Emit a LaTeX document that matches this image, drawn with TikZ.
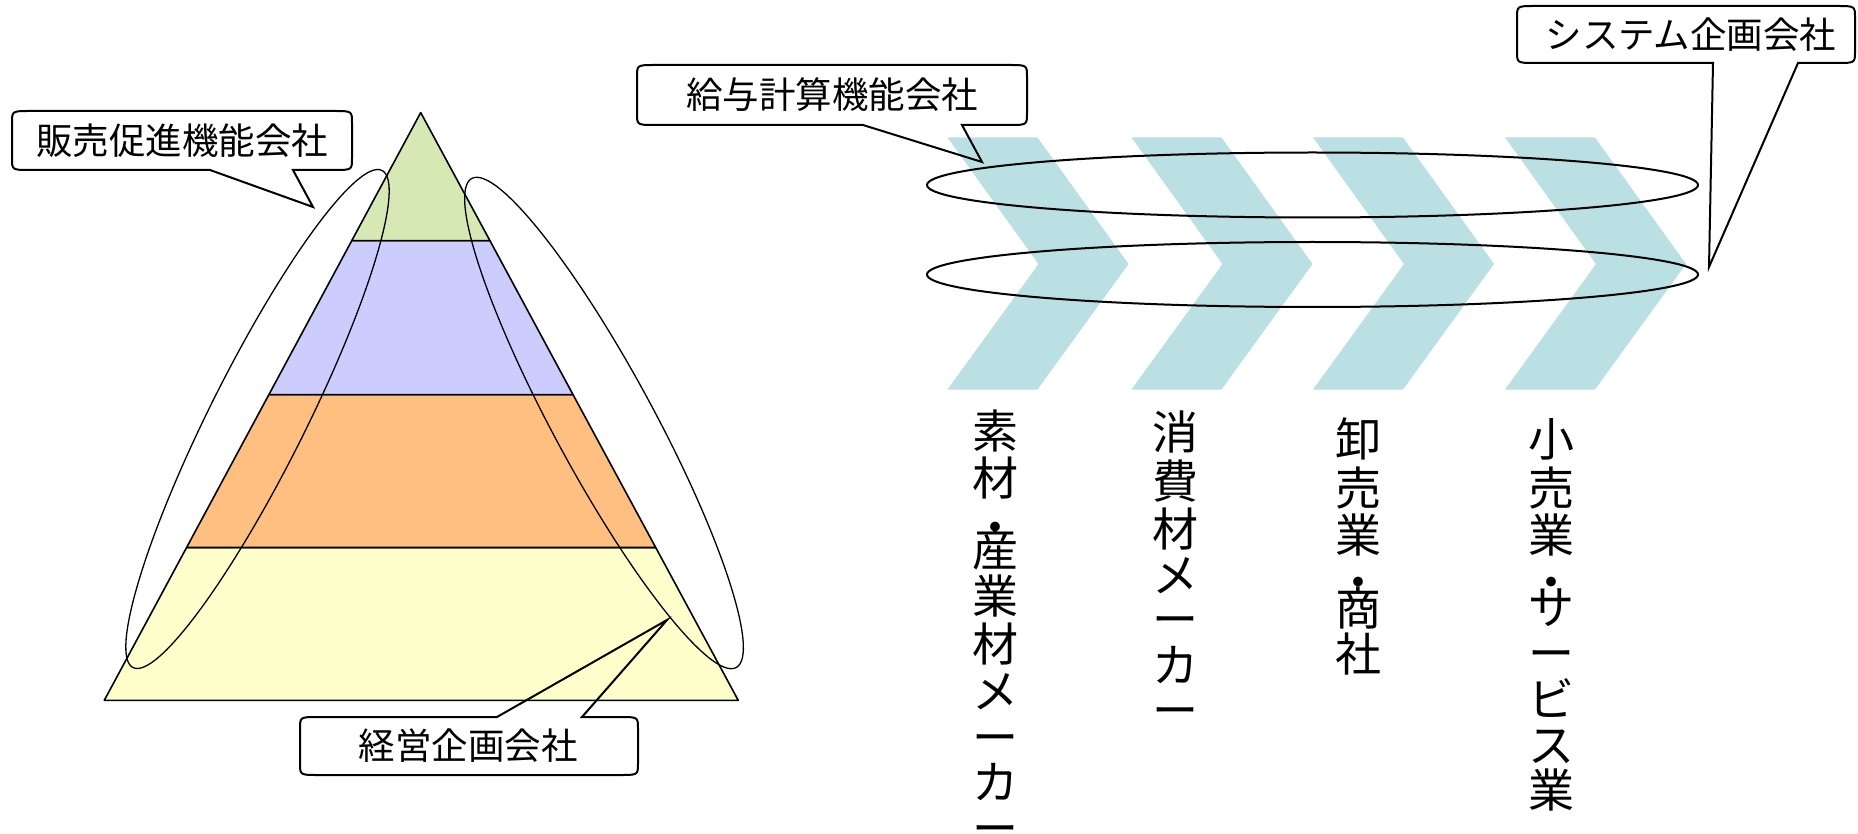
\documentclass[tikz,border=0pt]{standalone}
\usepackage{fontspec}
\newfontfamily\jpfont{Noto Sans CJK JP}
\definecolor{pgreen}{RGB}{214,233,181}
\definecolor{pblue}{RGB}{204,204,255}
\definecolor{porange}{RGB}{255,191,128}
\definecolor{pyellow}{RGB}{255,255,204}
\definecolor{chev}{RGB}{187,224,227}
\begin{document}
\begin{tikzpicture}[x=1pt,y=-1pt,
  layer/.style={draw=black,line width=1.6pt,line join=round},
  ring/.style={draw=black,line width=1.3pt},
  band/.style={draw=black,line width=2pt},
  callout/.style={draw=black,line width=2pt,line join=miter},
  ctext/.style={font=\jpfont\fontsize{36.5}{40}\selectfont,inner sep=0pt,text height=32.1pt,text depth=4.4pt},
  vch/.style={font=\jpfont\fontsize{46}{46}\selectfont,inner sep=0pt,text height=40.5pt,text depth=5.5pt}]
\fill[white] (0,0) rectangle (1858,834);
\useasboundingbox (0,0) rectangle (1858,834);

% pyramid
\coordinate (apex) at (420.7,112.6);
\coordinate (bl) at (104.3,700.3);
\coordinate (br) at (738.2,700.3);
\coordinate (l1) at (351.8,240.6);
\coordinate (r1) at (489.9,240.6);
\coordinate (l2) at (268.9,394.6);
\coordinate (r2) at (573.0,394.6);
\coordinate (l3) at (186.6,547.5);
\coordinate (r3) at (655.7,547.5);
\filldraw[layer,fill=pyellow] (l3) -- (r3) -- (br) -- (bl) -- cycle;
\filldraw[layer,fill=porange] (l2) -- (r2) -- (r3) -- (l3) -- cycle;
\filldraw[layer,fill=pblue] (l1) -- (r1) -- (r2) -- (l2) -- cycle;
\filldraw[layer,fill=pgreen] (apex) -- (r1) -- (l1) -- cycle;

% ellipses around pyramid sides
\draw[ring,shift={(257.5,419)},rotate=63.4] (0,0) ellipse[x radius=278,y radius=48];
\draw[ring,shift={(604,423)},rotate=118.4] (0,0) ellipse[x radius=278,y radius=50];

% chevrons
\foreach \x [count=\i] in {947.5,1131.5,1313,1505}
  \fill[chev] (\x,137.5) -- ++(90,0) -- ++(91,126.5) -- ++(-91,125.5) -- ++(-90,0) -- ++(91,-125.5) -- cycle;

% ellipses over chevrons
\draw[band] (1312.5,185) ellipse[x radius=385.5,y radius=32.5];
\draw[band] (1312.5,274.5) ellipse[x radius=385.5,y radius=32.5];

% callout 1
\draw[callout] (182,111) -- (334,111) .. controls (352,111) .. (352,123) -- (352,158)
  .. controls (352,170) .. (334,170) -- (293,170) -- (313,207) -- (210,170) -- (30,170)
  .. controls (12,170) .. (12,158) -- (12,123) .. controls (12,111) .. (30,111) -- cycle;
\node[ctext] (t1) at (182,140.5) {販売促進機能会社};

% callout 2
\draw[callout] (832,65) -- (1009,65) .. controls (1027,65) .. (1027,77) -- (1027,113)
  .. controls (1027,125) .. (1009,125) -- (962,125) -- (982,162) -- (863,125) -- (655,125)
  .. controls (637,125) .. (637,113) -- (637,77) .. controls (637,65) .. (655,65) -- cycle;
\node[ctext] (t2) at (832,95) {給与計算機能会社};

% callout 3
\draw[callout] (1686,6) -- (1837,6) .. controls (1855,6) .. (1855,18) -- (1855,51)
  .. controls (1855,63) .. (1837,63) -- (1798,63) -- (1709,267) -- (1713,63) -- (1535,63)
  .. controls (1517,63) .. (1517,51) -- (1517,18) .. controls (1517,6) .. (1535,6) -- cycle;
\node[ctext] (t3) at (1691,34.5) {システム企画会社};

% callout 4
\draw[callout] (318,717) -- (497,717) -- (667,620) -- (582,717) -- (620,717)
  .. controls (638,717) .. (638,729) -- (638,763) .. controls (638,775) .. (620,775)
  -- (318,775) .. controls (300,775) .. (300,763) -- (300,729) .. controls (300,717) .. (318,717) -- cycle;
\node[ctext] (t4) at (468,746) {経営企画会社};

% vertical labels
\foreach \c/\y [count=\i] in {素/431,材/477.5,・/527,産/549,業/596,材/644,メ/691,ー/737,カ/782,ー/828}
  \node[vch] (a\i) at (995,\y) {\c};
\foreach \c/\y [count=\i] in {消/432,費/481,材/529,メ/575,ー/619,カ/665,ー/710}
  \node[vch] (b\i) at (1175.5,\y) {\c};
\foreach \c/\y [count=\i] in {卸/439,売/488,業/535,・/582,商/608,社/654}
  \node[vch] (c\i) at (1358,\y) {\c};
\foreach \c/\y [count=\i] in {小/439,売/488,業/535,・/582,サ/607,ー/653,ビ/699,ス/745,業/790}
  \node[vch] (d\i) at (1551,\y) {\c};
\end{tikzpicture}
\end{document}
